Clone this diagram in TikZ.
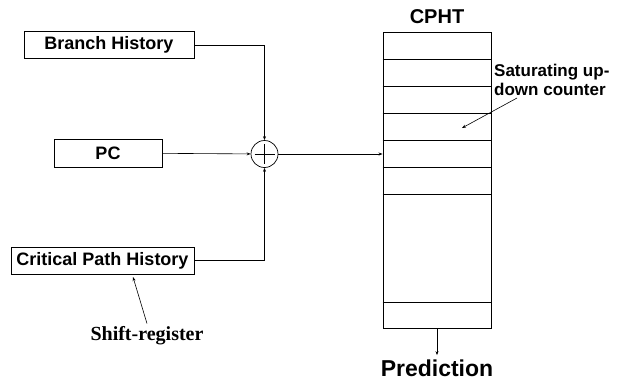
\documentclass[tikz,border=0pt]{standalone}
\usepackage{fontspec}
\setsansfont{Liberation Sans}
\newfontfamily\regfont{Liberation Serif}
\usepackage{tikz}
\usetikzlibrary{arrows.meta}

\begin{document}
\begin{tikzpicture}[x=1pt, y=-1pt]
    \tikzstyle{reg box}=[
        draw = black,
        line width = 0.9pt,
        rectangle,
        inner sep = 0pt,
        minimum height = 27pt,
        font = \sffamily\bfseries\fontsize{18}{20}\selectfont
    ]
    \tikzstyle{xor gate}=[
        draw = black,
        line width = 0.7pt,
        circle,
        minimum size = 27pt,
        inner sep = 0pt
    ]
    \tikzstyle{label text}=[
        inner sep = 1pt,
        font = \sffamily\bfseries\fontsize{17}{19}\selectfont
    ]
    \tikzstyle{wire}=[
        line width = 0.6pt,
        -{Stealth[length=4pt, width=3pt]}
    ]

    \useasboundingbox (0, 0) rectangle (624, 381);

    \node[reg box, minimum width = 170pt] (bh)  at (109, 45)    {Branch History};
    \node[reg box, minimum width = 108pt, minimum height = 28pt] (pc) at (108, 153) {PC};
    \node[reg box, minimum width = 183pt] (cph) at (102.5, 260.5) {Critical Path History};
    \node[xor gate] (xor) at (264.5, 154) {};
    \draw[line width = 0.7pt] (254.5, 154) -- (274.5, 154);
    \draw[line width = 0.7pt] (264.5, 144) -- (264.5, 164);

    % the table
    \node[draw, line width = 0.9pt, minimum width = 108pt, minimum height = 296pt,
          inner sep = 0pt] (cpht) at (437, 180) {};
    \foreach \y in {59, 86, 113, 140, 167, 194, 302}
        \draw[line width = 0.9pt] (cpht.west |- 0, \y) -- (cpht.east |- 0, \y);
    \node[label text, font = \sffamily\bfseries\fontsize{20}{22}\selectfont] (title) at (437, 17) {CPHT};
    \node[label text, align = left, anchor = west] (sat) at (493, 79.5) {Saturating up-\\down counter};
    \coordinate (satfoot) at (517, 98);
    \coordinate (cell) at (462, 128);

    \node[inner sep = 1pt, font = \regfont\bfseries\fontsize{20}{22}\selectfont] (sr) at (147, 336) {Shift-register};
    \coordinate (srtip) at (133, 277);

    \node[inner sep = 0pt, anchor = base, font = \sffamily\bfseries\fontsize{23}{25}\selectfont] (pred) at (437, 376) {Prediction};

    \draw[wire] (bh.east) -| (xor.north);
    \draw[wire] (cph.east) -| (xor.south);
    \draw[wire] (pc) -- (xor);
    \draw[wire] (xor) -- (xor -| cpht.west);
    \draw[wire] (cpht.south) -- ([yshift=4pt]pred.north);
    \draw[wire] ([yshift=2pt]sr.north) -- (srtip);

    \draw[wire] (satfoot) -- (cell);

\end{tikzpicture}
\end{document}
